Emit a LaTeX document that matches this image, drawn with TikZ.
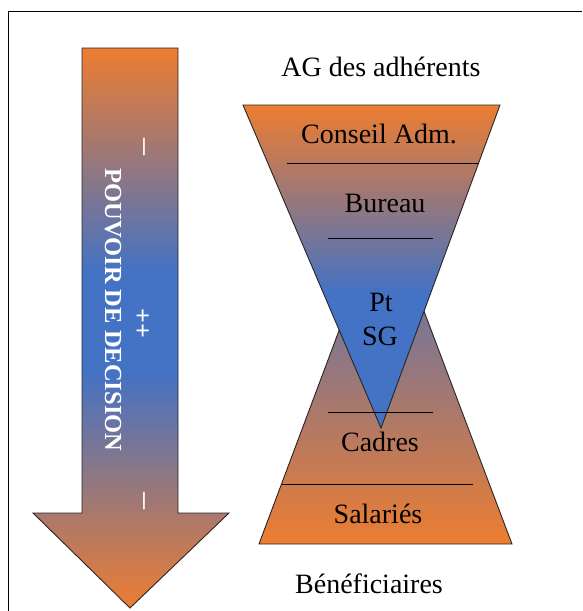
\documentclass[tikz,border=0pt]{standalone}
\usepackage{fontspec}
\setmainfont{Liberation Serif}
\definecolor{myor}{HTML}{ED7D31}
\definecolor{myblue}{HTML}{4472C4}
\pgfdeclareverticalshading{arrowsh}{100bp}{color(0bp)=(myor); color(25bp)=(myor); color(46bp)=(myblue); color(55bp)=(myblue); color(75bp)=(myor); color(100bp)=(myor)}
\pgfdeclareverticalshading{topsh}{100bp}{color(0bp)=(myblue); color(25bp)=(myblue); color(46bp)=(myblue); color(75bp)=(myor); color(100bp)=(myor)}
\pgfdeclareverticalshading{botsh}{100bp}{color(0bp)=(myor); color(25bp)=(myor); color(75bp)=(myblue); color(100bp)=(myblue)}
\begin{document}
\begin{tikzpicture}[x=1pt,y=-1pt,
  shapeline/.style={draw=black!85, line width=0.9pt},
  sepline/.style={draw=black, line width=1pt},
  lbl/.style={font=\fontsize{28}{33}\selectfont, text=black, inner sep=0pt, anchor=base},
  vlbl/.style={font=\fontsize{24.5}{29}\selectfont\bfseries, text=white, rotate=-90, inner sep=0pt},
  vmark/.style={font=\fontsize{26}{30}\selectfont\bfseries, text=white, rotate=-90, inner sep=0pt},
  vdash/.style={font=\fontsize{34}{38}\selectfont, text=white, rotate=-90, inner sep=0pt}]
\useasboundingbox (0,0) rectangle (582,611);
% frame (cropped at right and bottom)
\draw[line width=1pt] (8,611) -- (8,11) -- (582,11);
% big arrow
\shadedraw[shading=arrowsh, shapeline] (82,48) -- (178,48) -- (178,513) -- (229,513) -- (130,608) -- (33,513) -- (82,513) -- cycle;
\node[vlbl] (pouvoir) at (113,310) {POUVOIR DE DECISION};
\node[vdash] (m1) at (141,147) {–};
\node[vmark] (m2) at (142,323) {++};
\node[vdash] (m3) at (141,501) {–};
% lower triangle
\shadedraw[shading=botsh, shapeline] (259,544) -- (512,544) -- (385,208) -- cycle;
% upper (inverted) triangle
\shadedraw[shading=topsh, shapeline] (243,105) -- (500,105) -- (381,428) -- cycle;
% separators
\draw[sepline] (287,163) -- (479,163);
\draw[sepline] (328,238) -- (433,238);
\draw[sepline] (328,412) -- (433,412);
\draw[sepline] (282,484) -- (473,484);
% labels
\node[lbl] (ag) at (381,76) {AG des adhérents};
\node[lbl] (ca) at (379,143) {Conseil Adm.};
\node[lbl] (bu) at (385,212) {Bureau};
\node[lbl] (pt) at (381,311) {Pt};
\node[lbl] (sg) at (380,345) {SG};
\node[lbl] (cad) at (380,451) {Cadres};
\node[lbl] (sal) at (378,523) {Salariés};
\node[lbl] (ben) at (369,593) {Bénéficiaires};
\end{tikzpicture}
\end{document}
